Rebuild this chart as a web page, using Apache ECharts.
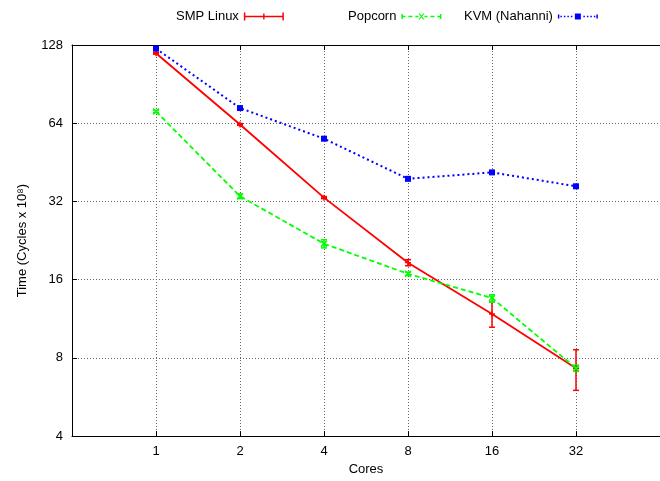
<!DOCTYPE html>
<html>
<head>
<meta charset="utf-8">
<script src="https://cdn.jsdelivr.net/npm/echarts@6/dist/echarts.min.js"></script>
<style>
  html, body { margin: 0; padding: 0; background: #fff; }
  #chart { width: 660px; height: 481px; }
</style>
</head>
<body>
<div id="chart"></div>
<script>
// cores on the x axis (log2)
const cores = [1, 2, 4, 8, 16, 32]

// time in cycles x 10^8
const smpLinux = [119, 63.3, 33.1, 18.6, 11.8, 7.3]
const smpLow = [118, 62.8, 32.8, 18.1, 10.5, 6.0]
const smpHigh = [120, 63.8, 33.4, 19.1, 13.1, 8.6]

const popcorn = [71, 33.5, 22.0, 16.85, 13.6, 7.3]
const popLow = [70.3, 32.8, 21.2, 16.6, 13.1, 7.1]
const popHigh = [71.7, 34.2, 22.8, 17.1, 14.0, 7.5]

const kvm = [124, 73.2, 55.8, 39.1, 41.4, 36.6]
const kvmLow = [123.4, 72.8, 55.5, 38.9, 41.2, 36.4]
const kvmHigh = [124.6, 73.6, 56.1, 39.3, 41.6, 36.8]

const names = ['SMP Linux', 'Popcorn', 'KVM (Nahanni)']
const colors = ['#ff0000', '#00ff00', '#0000ff']

const FONT = 'Liberation Sans'

const plusPath = 'path://M2.3 0H3.7V6H2.3Z M0 2.3H6V3.7H0Z'
const crossPath = 'path://M0 1L1 0L6 5L5 6Z M5 0L6 1L1 6L0 5Z'

// legend samples: line with error-bar caps and the point in the middle
const redIcon = 'path://M0 0H1.5V8H0Z M38.5 0H40V8H38.5Z M0 3.3H40V4.7H0Z M19.3 1H20.7V7H19.3Z'
function dashes(segs) {
  return segs.map(([a, b]) => 'M' + a + ' 3.3H' + b + 'V4.7H' + a + 'Z').join(' ')
}
const greenIcon = 'path://M0 1.5H1.5V6.5H0Z M38.5 1.5H40V6.5H38.5Z ' +
  dashes([[0, 4], [7, 11], [14, 17], [23, 26], [29, 33], [36, 40]]) +
  ' M17 1L18.4 1L23 7L21.6 7Z M21.6 1L23 1L18.4 7L17 7Z'
const blueIcon = 'path://M0 2H1.5V6H0Z M38.5 2H40V6H38.5Z ' +
  dashes([[2.5, 4], [6, 7.5], [9.5, 11], [13, 14.5], [25.5, 27], [29, 30.5], [32.5, 34], [36, 37.5]]) +
  ' M17 1H23V7H17Z'

function errorSeries(low, high, color) {
  return {
    type: 'custom',
    data: cores.map((c, i) => [c, low[i], high[i]]),
    encode: { x: 0, y: [1, 2] },
    silent: true,
    renderItem(params, api) {
      const x = api.value(0)
      const lo = api.coord([x, api.value(1)])
      const hi = api.coord([x, api.value(2)])
      const style = { stroke: color, lineWidth: 1.5 }
      return {
        type: 'group',
        children: [
          { type: 'line', shape: { x1: lo[0], y1: lo[1], x2: hi[0], y2: hi[1] }, style },
          { type: 'line', shape: { x1: lo[0] - 3, y1: lo[1], x2: lo[0] + 3, y2: lo[1] }, style },
          { type: 'line', shape: { x1: hi[0] - 3, y1: hi[1], x2: hi[0] + 3, y2: hi[1] }, style },
        ],
      }
    },
  }
}

function legend(name, icon, left, h) {
  return {
    data: [{ name, icon }],
    left,
    top: 5,
    align: 'right',
    itemWidth: 40,
    itemHeight: h,
    selectedMode: false,
    textStyle: { fontFamily: FONT, fontSize: 13, color: '#000' },
  }
}

const gridLine = {
  show: true,
  showMinLine: false,
  showMaxLine: false,
  lineStyle: { color: '#666', type: [1, 2], width: 1 },
}
const axisText = { fontFamily: FONT, fontSize: 13, color: '#000' }
const frameLine = { show: true, onZero: false, lineStyle: { color: '#000', width: 1 } }
const inTick = { show: true, inside: true, length: 5, lineStyle: { color: '#000' } }

const chart = echarts.init(document.getElementById('chart'))
chart.setOption({
  animation: false,
  backgroundColor: '#fff',
  legend: [
    legend(names[0], redIcon, 171, 8),
    legend(names[1], greenIcon, 343, 6),
    legend(names[2], blueIcon, 459, 6),
  ],
  grid: { left: 72, right: 0, top: 45, bottom: 44 },
  xAxis: [
    {
      type: 'log',
      logBase: 2,
      min: 0.5,
      max: 64,
      name: 'Cores',
      nameLocation: 'middle',
      nameGap: 26,
      nameTextStyle: axisText,
      axisLine: frameLine,
      axisTick: inTick,
      axisLabel: {
        ...axisText,
        margin: 9,
        showMinLabel: false,
        showMaxLabel: false,
        formatter: (v) => (v < 0.75 || v > 48 ? '' : String(Math.round(v))),
      },
      splitLine: gridLine,
    },
    {
      // top edge of the frame
      type: 'log',
      logBase: 2,
      min: 0.5,
      max: 64,
      position: 'top',
      axisLine: frameLine,
      axisTick: inTick,
      axisLabel: { show: false },
      splitLine: { show: false },
    },
  ],
  yAxis: {
    type: 'log',
    logBase: 2,
    min: 4,
    max: 128,
    name: 'Time (Cycles x 10\u2078)',
    nameLocation: 'middle',
    nameGap: 43,
    nameTextStyle: axisText,
    axisLine: frameLine,
    axisTick: inTick,
    axisLabel: { ...axisText, margin: 9, formatter: (v) => String(Math.round(v)) },
    splitLine: gridLine,
  },
  series: [
    {
      name: names[0],
      type: 'line',
      data: cores.map((c, i) => [c, smpLinux[i]]),
      color: colors[0],
      symbol: plusPath,
      symbolSize: 6,
      lineStyle: { width: 1.8, color: colors[0] },
      itemStyle: { color: colors[0] },
    },
    errorSeries(smpLow, smpHigh, colors[0]),
    {
      name: names[1],
      type: 'line',
      data: cores.map((c, i) => [c, popcorn[i]]),
      color: colors[1],
      symbol: crossPath,
      symbolSize: 7,
      lineStyle: { width: 1.8, type: [5, 3], color: colors[1] },
      itemStyle: { color: colors[1] },
    },
    errorSeries(popLow, popHigh, colors[1]),
    {
      name: names[2],
      type: 'line',
      data: cores.map((c, i) => [c, kvm[i]]),
      color: colors[2],
      symbol: 'rect',
      symbolSize: 6,
      lineStyle: { width: 2, type: [2, 3], color: colors[2] },
      itemStyle: { color: colors[2] },
    },
    errorSeries(kvmLow, kvmHigh, colors[2]),
  ],
})
</script>
</body>
</html>
